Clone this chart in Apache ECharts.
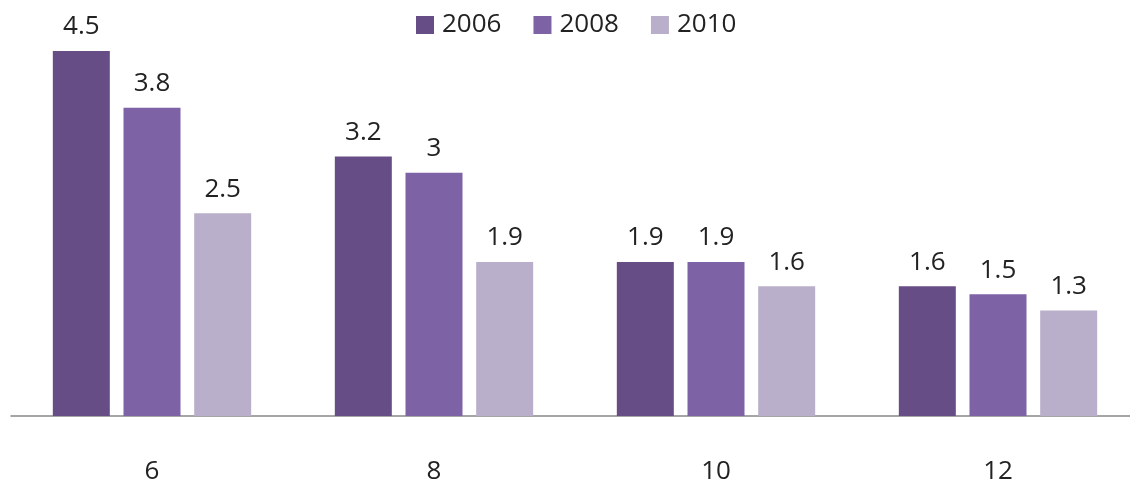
<!DOCTYPE html>
<html>
<head>
<meta charset="utf-8">
<script src="https://cdn.jsdelivr.net/npm/echarts@6/dist/echarts.min.js"></script>
<style>
  html, body { margin: 0; padding: 0; background: #fff; overflow: hidden; }
  #chart { width: 1140px; height: 487px; }
</style>
</head>
<body>
<div id="chart"></div>
<script>
const categories = ['6', '8', '10', '12'];
const seriesNames = ['2006', '2008', '2010'];
const values2006 = [4.5, 3.2, 1.9, 1.6];
const values2008 = [3.8, 3, 1.9, 1.5];
const values2010 = [2.5, 1.9, 1.6, 1.3];
const colors = ['#674d85', '#7d62a5', '#b9afca'];

const chart = echarts.init(document.getElementById('chart'));
const allValues = [values2006, values2008, values2010];
const font = 'Open Sans';

chart.setOption({
  animation: false,
  textStyle: { fontFamily: font },
  legend: {
    top: 7,
    left: 411,
    itemWidth: 18,
    itemHeight: 18,
    itemGap: 32,
    icon: 'rect',
    textStyle: { fontSize: 26, color: '#222', fontFamily: font, padding: [0, 0, 0, 3] },
    data: seriesNames
  },
  grid: { left: 11, right: 1, top: 51, bottom: 71, containLabel: false },
  xAxis: {
    type: 'category',
    data: categories,
    axisLine: { lineStyle: { color: '#888', width: 1.5 } },
    axisTick: { show: false },
    axisLabel: { fontSize: 26, color: '#222', margin: 43, fontFamily: font }
  },
  yAxis: {
    type: 'value',
    min: 0,
    max: 4.5,
    show: false,
    splitLine: { show: false }
  },
  series: seriesNames.map((name, i) => ({
    name: name,
    type: 'bar',
    data: allValues[i],
    barWidth: 57,
    barGap: '24%',
    itemStyle: { color: colors[i] },
    label: {
      show: true,
      position: 'top',
      distance: 11,
      fontSize: 26,
      color: '#222',
      fontFamily: font
    }
  }))
});
</script>
</body>
</html>
